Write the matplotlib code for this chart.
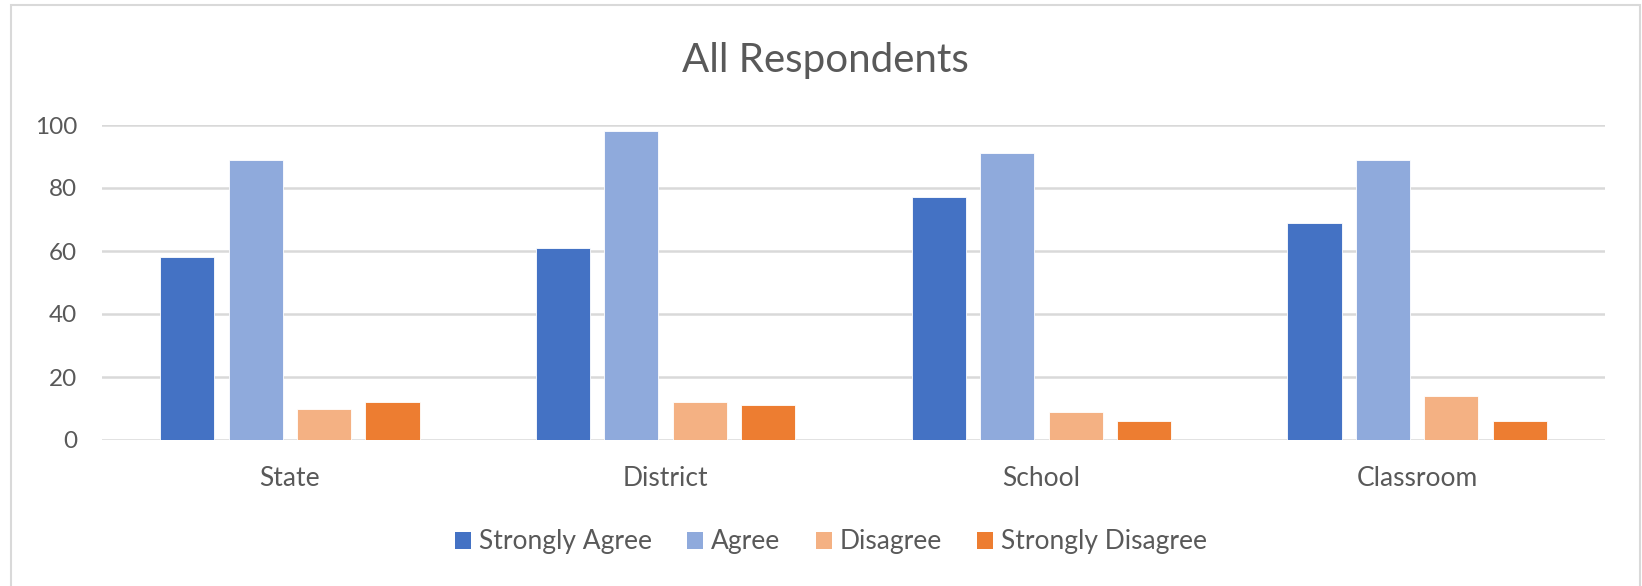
import matplotlib
matplotlib.use("Agg")
import matplotlib.pyplot as plt
from matplotlib.patches import Patch, Rectangle
import numpy as np

categories = ["State", "District", "School", "Classroom"]
series_names = ["Strongly Agree", "Agree", "Disagree", "Strongly Disagree"]
strongly_agree = [58, 61, 77, 69]
agree = [89, 98, 91, 89]
disagree = [10, 12, 9, 14]
strongly_disagree = [12, 11, 6, 6]
yticks = [0, 20, 40, 60, 80, 100]
colors = ["#4472C4", "#8FAADC", "#F4B183", "#ED7D31"]

plt.rcParams['font.family'] = ['Lato', 'DejaVu Sans']
text_color = "#595959"
grid_color = "#D9D9D9"

W, H = 1642, 586
fig = plt.figure(figsize=(W / 100, H / 100), dpi=100)
ax = fig.add_axes([102 / W, 1 - 440 / H, (1605 - 102) / W, (440 - 125) / H])

series = [strongly_agree, agree, disagree, strongly_disagree]
x = np.arange(len(categories))
pitch = 0.182
width = 0.144
for i, (vals, name, c) in enumerate(zip(series, series_names, colors)):
    ax.bar(x + (i - 1.5) * pitch, vals, width=width, color=c, label=name,
           edgecolor="white", linewidth=0.6, zorder=3)

ax.set_xlim(-0.5, len(categories) - 0.5)
ax.set_ylim(0, 100)
ax.set_yticks(yticks)
ax.set_yticklabels([str(v) for v in yticks])
ax.set_xticks(x)
ax.set_xticklabels(categories)
ax.tick_params(axis='both', length=0, colors=text_color)
ax.tick_params(axis='y', pad=18, labelsize=17.5)
ax.tick_params(axis='x', pad=19, labelsize=19)
ax.yaxis.grid(True, color=grid_color, linewidth=1.8, zorder=0)
for s in ax.spines.values():
    s.set_visible(False)
ax.set_axisbelow(True)

fig.text(825 / W, 1 - 72 / H, "All Respondents", ha='center', va='baseline',
         fontsize=29, color=text_color)

handles = [Patch(facecolor=c, edgecolor='none') for c in colors]
leg = fig.legend(handles, series_names, loc='center', bbox_to_anchor=(831 / W, 1 - 542 / H),
                 ncol=4, frameon=False, fontsize=19, handlelength=0.6, handleheight=0.6,
                 handletextpad=0.3, columnspacing=1.35, labelcolor=text_color)

fig.patches.append(Rectangle((11 / W, -0.02), (1640 - 11) / W, 1 - 5 / H + 0.02,
                             transform=fig.transFigure, fill=False,
                             edgecolor=grid_color, linewidth=1.5))

fig.savefig("out.png", dpi=100, facecolor="white")
